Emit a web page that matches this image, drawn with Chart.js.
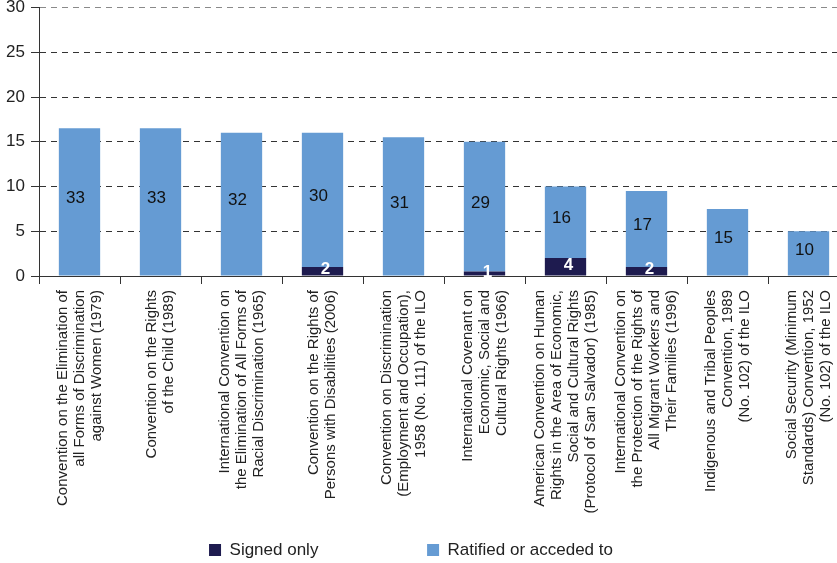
<!DOCTYPE html>
<html>
<head>
<meta charset="utf-8">
<script src="https://cdn.jsdelivr.net/npm/chart.js@4/dist/chart.umd.min.js"></script>
<style>
  html, body { margin: 0; padding: 0; background: #fff; overflow: hidden; }
  #contenedorConvenios { width: 860px; height: 580px; }
</style>
</head>
<body>
<div id="contenedorConvenios"><canvas id="graficoConvenios" width="860" height="580"></canvas></div>
<script>
// ===================================== Datos ==================
var convenios = [
  ["Convention on the Elimination of", "all Forms of Discrimination", "against Women (1979)"],
  ["Convention on the Rights", "of the Child (1989)"],
  ["International Convention on", "the Elimination of All Forms of", "Racial Discrimination (1965)"],
  ["Convention on the Rights of", "Persons with Disabilities (2006)"],
  ["Convention on Discrimination", "(Employment and Occupation),", "1958 (No. 111) of the ILO"],
  ["International Covenant on", "Economic, Social and", "Cultural Rights (1966)"],
  ["American Convention on Human", "Rights in the Area of Economic,", "Social and Cultural Rights", "(Protocol of San Salvador) (1985)"],
  ["International Convention on", "the Protection of the Rights of", "All Migrant Workers and", "Their Families (1996)"],
  ["Indigenous and Tribal Peoples", "Convention, 1989", "(No. 102) of the ILO"],
  ["Social Security (Minimum", "Standards) Convention, 1952", "(No. 102) of the ILO"]
];
var soloFirmado = [0, 0, 0, 2, 0, 1, 4, 2, 0, 0];
var ratificado = [33, 33, 32, 30, 31, 29, 16, 17, 15, 10];
var etiquetasEjeY = ["0", "5", "10", "15", "20", "25", "30"];
var nombresSeries = ["Signed only", "Ratified or acceded to"];

var colorFirmado = "#1e1b4f";
var colorRatificado = "#659bd3";
var fuente = "'Liberation Sans', Arial, sans-serif";

// ===================================== Nombres de los convenios (rotados, centrados) ==================
var etiquetasConvenios = {
  id: "etiquetasConvenios",
  afterDraw(chart) {
    const ctx = chart.ctx;
    const ejeX = chart.scales.x;
    const alto = 17;
    ctx.save();
    ctx.font = "15px " + fuente;
    ctx.fillStyle = "#222";
    ctx.textAlign = "right";
    ctx.textBaseline = "middle";
    convenios.forEach((lineas, i) => {
      const centro = ejeX.getPixelForValue(i);
      lineas.forEach((linea, j) => {
        ctx.save();
        ctx.translate(centro + (j - (lineas.length - 1) / 2) * alto, ejeX.top + 14);
        ctx.rotate(-Math.PI / 2);
        ctx.fillText(linea, 0, 0);
        ctx.restore();
      });
    });
    ctx.restore();
  }
};

// ===================================== Valores dentro de las barras ==================
var valoresEnBarras = {
  id: "valoresEnBarras",
  afterDatasetsDraw(chart) {
    const ctx = chart.ctx;
    ctx.save();
    ctx.textAlign = "center";
    ctx.textBaseline = "middle";
    chart.data.datasets.forEach((ds, d) => {
      chart.getDatasetMeta(d).data.forEach((barra, i) => {
        const valor = ds.data[i];
        if (!valor) return;
        const medio = (barra.y + barra.base) / 2;
        if (d === 0) {
          ctx.font = "bold 17px " + fuente;
          ctx.fillStyle = "#fff";
          ctx.fillText(valor, barra.x + 3, medio - 1.5);
        } else {
          ctx.font = "17px " + fuente;
          ctx.fillStyle = "#111";
          ctx.fillText(valor, barra.x - 4, medio - 3.5);
        }
      });
    });
    ctx.restore();
  }
};

// ===================================== Gráfico ==================
new Chart(document.getElementById("graficoConvenios"), {
  type: "bar",
  data: {
    labels: convenios.map(l => l.join(" ")),
    datasets: [
      {
        label: nombresSeries[0],
        data: soloFirmado,
        backgroundColor: colorFirmado,
        borderWidth: 0,
        barPercentage: 0.51,
        categoryPercentage: 1
      },
      {
        label: nombresSeries[1],
        data: ratificado,
        backgroundColor: colorRatificado,
        borderWidth: 0,
        barPercentage: 0.51,
        categoryPercentage: 1
      }
    ]
  },
  options: {
    responsive: false,
    animation: false,
    layout: { padding: { left: -27, right: 11, top: 7.5, bottom: 11.5 } },
    scales: {
      x: {
        stacked: true,
        ticks: { display: false },
        grid: {
          drawOnChartArea: false,
          drawTicks: true,
          tickLength: 8,
          tickColor: "#333"
        },
        border: { color: "#333", width: 1 },
        afterFit: s => { s.height = 156.8; }
      },
      y: {
        stacked: true,
        min: 0,
        max: 60,
        ticks: {
          stepSize: 10,
          padding: 6,
          color: "#222",
          font: { family: fuente, size: 17 },
          callback: (v, i) => etiquetasEjeY[i]
        },
        grid: {
          color: c => (c.tick && c.tick.value === 60 ? "#8a8a8a" : "#333"),
          lineWidth: 1,
          drawTicks: true,
          tickLength: 8,
          tickColor: "#333",
          tickBorderDash: []
        },
        border: { color: "#333", width: 1, dash: [6, 5] },
        afterFit: s => { s.width = 66; s.paddingTop = 0; s.paddingBottom = 0; }
      }
    },
    plugins: {
      tooltip: { enabled: false },
      legend: {
        position: "bottom",
        labels: {
          boxWidth: 12,
          boxHeight: 12,
          padding: 108.7,
          color: "#222",
          font: { family: fuente, size: 17 }
        }
      }
    }
  },
  plugins: [etiquetasConvenios, valoresEnBarras]
});
</script>
</body>
</html>
